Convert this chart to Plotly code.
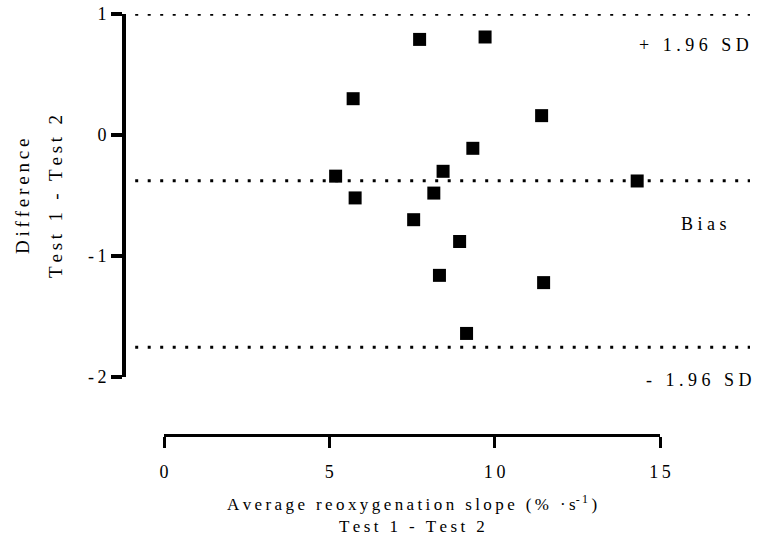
import numpy as np
import plotly.graph_objects as go

# Bland-Altman data: mean of the two tests (x) and Test 1 - Test 2 (y)
avg_slope = [7.73, 9.71, 5.72, 11.42, 9.34, 5.19, 8.44, 14.31, 5.78, 8.16, 7.55, 8.94, 8.33, 11.48, 9.15]
difference = [0.79, 0.81, 0.30, 0.16, -0.11, -0.34, -0.30, -0.38, -0.52, -0.48, -0.70, -0.88, -1.16, -1.22, -1.64]

x_ticks = [0, 5, 10, 15]
x_tick_labels = ["0", "5", "10", "15"]
y_ticks = [-2, -1, 0, 1]
y_tick_labels = ["-2", "-1", "0", "1"]
level_labels = ["+ 1.96 SD", "Bias", "- 1.96 SD"]

# bias and limits of agreement
diff = np.array(difference)
bias = diff.mean()
sd = diff.std(ddof=1)
levels = [bias + 1.96 * sd, bias, bias - 1.96 * sd]

FONT = "Liberation Serif"
THIN = "\u2009"
QUARTER = "\u2005"


def spread(s, gap=THIN):
    """Letter-spaced text."""
    return gap.join(s)


# page geometry (pixels)
W, H = 765, 557
L, R, T, B = 126, 752, 14, 435          # drawing area edges
X0_PX, X15_PX = 164, 660                 # where 0 and 15 fall on the bottom axis
Y_BOTTOM_PX = 377                        # where -2 falls on the left axis
ppu = (X15_PX - X0_PX) / 15.0
main_range = [(L - X0_PX) / ppu, (R - X0_PX) / ppu]
x2_domain = [(X0_PX - L) / (R - L), (X15_PX - L) / (R - L)]
y_domain = [(B - Y_BOTTOM_PX) / (B - T), 1.0]
line_span = [(135.2 - X0_PX) / ppu, (750 - X0_PX) / ppu]

fig = go.Figure()

# dotted reference lines (upper LoA, bias, lower LoA)
for lv in levels:
    fig.add_trace(go.Scatter(
        x=line_span, y=[lv, lv], mode="lines", xaxis="x", yaxis="y",
        line=dict(color="black", width=3, dash="3px,9.5px"),
        hoverinfo="skip", showlegend=False,
    ))

# data points on the visible 0-15 axis
fig.add_trace(go.Scatter(
    x=avg_slope, y=difference, mode="markers", xaxis="x2", yaxis="y",
    marker=dict(symbol="square", size=13, color="black", line=dict(width=0)),
    showlegend=False, cliponaxis=False,
))

fig.update_layout(
    width=W, height=H,
    margin=dict(l=L, r=W - R, t=T, b=H - B, pad=0, autoexpand=False),
    paper_bgcolor="white", plot_bgcolor="rgba(0,0,0,0)",
    font=dict(family=FONT, size=17, color="black"),
    showlegend=False,
    hovermode=False,
    xaxis=dict(
        domain=[0, 1], range=main_range, visible=False, fixedrange=True,
        automargin=False,
    ),
    xaxis2=dict(
        domain=x2_domain, range=[0, 15], anchor="free", position=0,
        showline=True, linewidth=3.4, linecolor="black",
        ticks="outside", ticklen=11, tickwidth=3.4, tickcolor="black",
        tickvals=x_ticks, ticktext=[spread(t) for t in x_tick_labels],
        tickfont=dict(family=FONT, size=18),
        ticklabelstandoff=8, automargin=False,
        showgrid=False, zeroline=False, fixedrange=True,
    ),
    yaxis=dict(
        domain=y_domain, range=[-2, 1], anchor="x",
        showline=True, linewidth=3.6, linecolor="black",
        ticks="outside", ticklen=11, tickwidth=3.6, tickcolor="black",
        tickvals=y_ticks, ticktext=[spread(t) for t in y_tick_labels],
        tickfont=dict(family=FONT, size=18),
        ticklabelstandoff=1, automargin=False,
        showgrid=False, zeroline=False, fixedrange=True,
    ),
)

# labels for the reference lines
label_pos = [
    dict(x=(751 - L) / (R - L), yshift=-31),
    dict(x=(729 - L) / (R - L), yshift=-43),
    dict(x=(754 - L) / (R - L), yshift=-33),
]
for lv, txt, pos in zip(levels, level_labels, label_pos):
    fig.add_annotation(
        xref="paper", yref="y", x=pos["x"], y=lv, xanchor="right",
        yanchor="middle", yshift=pos["yshift"], showarrow=False,
        text=spread(txt, QUARTER), font=dict(family=FONT, size=18),
    )

# axis titles
x_center = ((X0_PX + X15_PX) / 2 - L) / (R - L)
x_title_1 = spread("Average reoxygenation slope (% \u00b7s") + "<sup>" + spread("-1") + "</sup>" + THIN + ")"
fig.add_annotation(xref="paper", yref="paper", x=x_center, y=(B - 503) / (B - T),
                   xanchor="center", yanchor="middle", showarrow=False,
                   text=x_title_1, font=dict(family=FONT, size=17))
fig.add_annotation(xref="paper", yref="paper", x=x_center, y=(B - 526) / (B - T),
                   xanchor="center", yanchor="middle", showarrow=False,
                   text=spread("Test 1 - Test 2"), font=dict(family=FONT, size=17))

y_center = (B - 197) / (B - T)
fig.add_annotation(xref="paper", yref="paper", x=(22 - L) / (R - L), y=y_center,
                   xanchor="center", yanchor="middle", textangle=-90, showarrow=False,
                   text=spread("Difference"), font=dict(family=FONT, size=19))
fig.add_annotation(xref="paper", yref="paper", x=(55 - L) / (R - L), y=y_center,
                   xanchor="center", yanchor="middle", textangle=-90, showarrow=False,
                   text=spread("Test 1 - Test 2"), font=dict(family=FONT, size=19))

fig.write_html("out.html", config={"displayModeBar": False})
